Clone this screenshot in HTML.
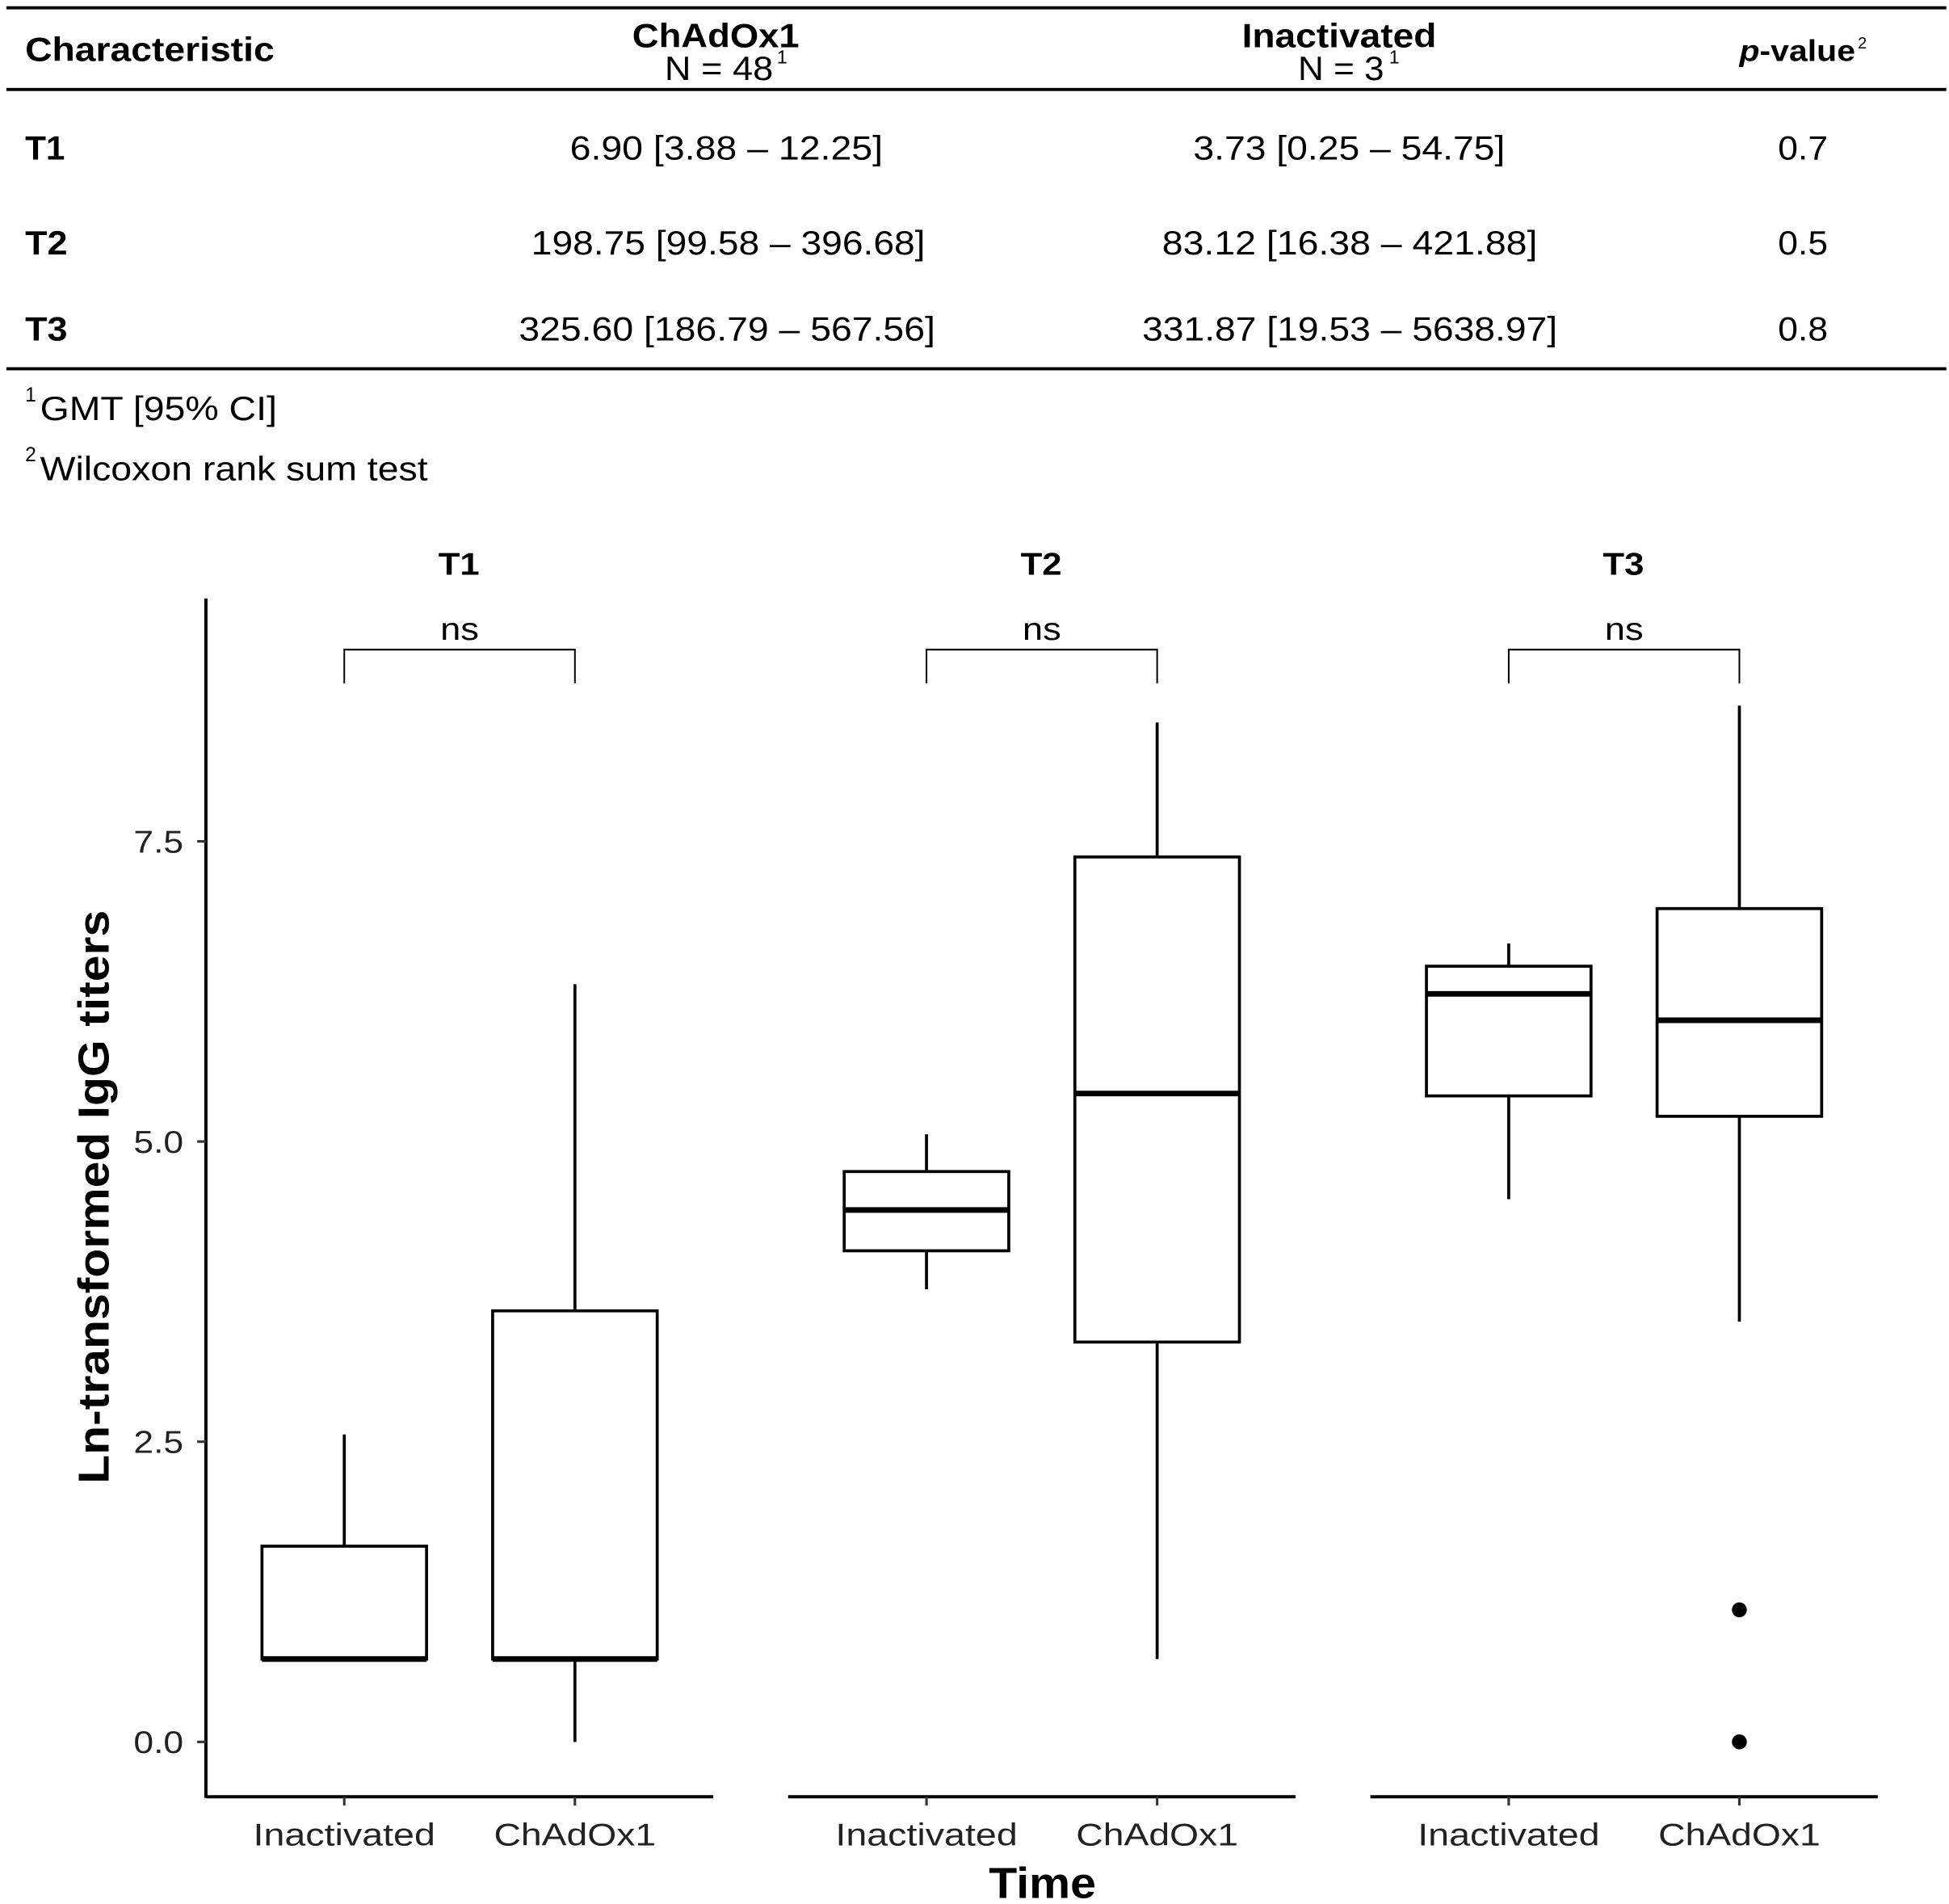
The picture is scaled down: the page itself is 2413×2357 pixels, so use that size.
<!DOCTYPE html>
<html><head><meta charset="utf-8"><style>
html,body{margin:0;padding:0;background:#fff;}
svg{display:block;font-family:"Liberation Sans",Arial,sans-serif;}
</style></head><body>
<svg id="fig" width="2413" height="2357" viewBox="0 0 1563 1527" xmlns="http://www.w3.org/2000/svg">
<g font-size="27" fill="#000">
 <rect x="5" y="5" width="1556" height="2.5"/>
 <text x="20" y="49" font-weight="bold" textLength="200" lengthAdjust="spacingAndGlyphs">Characteristic</text>
 <text x="507" y="38" font-weight="bold" textLength="134" lengthAdjust="spacingAndGlyphs">ChAdOx1</text>
 <text x="533" y="64" textLength="87" lengthAdjust="spacingAndGlyphs">N = 48</text>
 <text x="623" y="51" font-size="15">1</text>
 <text x="996" y="38" font-weight="bold" textLength="156" lengthAdjust="spacingAndGlyphs">Inactivated</text>
 <text x="1041" y="64" textLength="69" lengthAdjust="spacingAndGlyphs">N = 3</text>
 <text x="1114" y="51" font-size="15">1</text>
 <text x="1395" y="49" font-weight="bold" font-size="24" textLength="93" lengthAdjust="spacingAndGlyphs"><tspan font-style="italic">p</tspan>-value</text>
 <text x="1490" y="39" font-size="13">2</text>
 <rect x="5" y="70.5" width="1556" height="2.5"/>
 <text x="20" y="128" font-weight="bold" textLength="32" lengthAdjust="spacingAndGlyphs">T1</text>
 <text x="457" y="128" textLength="251" lengthAdjust="spacingAndGlyphs">6.90 [3.88 – 12.25]</text>
 <text x="957" y="128" textLength="250" lengthAdjust="spacingAndGlyphs">3.73 [0.25 – 54.75]</text>
 <text x="1426" y="128" textLength="40" lengthAdjust="spacingAndGlyphs">0.7</text>
 <text x="20" y="204" font-weight="bold" textLength="34" lengthAdjust="spacingAndGlyphs">T2</text>
 <text x="426" y="204" textLength="316" lengthAdjust="spacingAndGlyphs">198.75 [99.58 – 396.68]</text>
 <text x="932" y="204" textLength="301" lengthAdjust="spacingAndGlyphs">83.12 [16.38 – 421.88]</text>
 <text x="1426" y="204" textLength="40" lengthAdjust="spacingAndGlyphs">0.5</text>
 <text x="20" y="273" font-weight="bold" textLength="34" lengthAdjust="spacingAndGlyphs">T3</text>
 <text x="416" y="273" textLength="334" lengthAdjust="spacingAndGlyphs">325.60 [186.79 – 567.56]</text>
 <text x="916" y="273" textLength="333" lengthAdjust="spacingAndGlyphs">331.87 [19.53 – 5638.97]</text>
 <text x="1426" y="273" textLength="40" lengthAdjust="spacingAndGlyphs">0.8</text>
 <rect x="5" y="294.5" width="1556" height="2.5"/>
 <text x="20" y="322" font-size="16">1</text>
 <text x="32" y="337" textLength="190" lengthAdjust="spacingAndGlyphs">GMT [95% CI]</text>
 <text x="20" y="370" font-size="16">2</text>
 <text x="32" y="385" textLength="311" lengthAdjust="spacingAndGlyphs">Wilcoxon rank sum test</text>
</g>
<g id="plot"></g>
</svg>
<script>
const panels = ["T1","T2","T3"];
const groups = ["Inactivated","ChAdOx1"];
const lowWhisker = [[0.69,0.0],[3.77,0.69],[4.52,3.50]];
const q1Values   = [[0.69,0.69],[4.09,3.33],[5.38,5.21]];
const medians    = [[0.69,0.69],[4.43,5.40],[6.23,6.01]];
const q3Values   = [[1.63,3.59],[4.75,7.37],[6.46,6.94]];
const highWhisker= [[2.56,6.31],[5.06,8.49],[6.65,8.63]];
const outliers   = [[[],[]],[[],[]],[[],[1.10,0.0]]];
const yTicks = [0, 2.5, 5, 7.5];
const yTickLabels = ["0.0","2.5","5.0","7.5"];
const sigLabels = ["ns","ns","ns"];

const NS="http://www.w3.org/2000/svg";
const g=document.getElementById('plot');
const Y0=1397, PXU=96.3;
function yScale(v){return Y0-PXU*v;}
const panelLeft=[165,632,1099], panelW=407;
function xScale(p,i){return panelLeft[p]+111+i*185;}
function el(tag,attrs,parent){const e=document.createElementNS(NS,tag);for(const k in attrs)e.setAttribute(k,attrs[k]);(parent||g).appendChild(e);return e;}

let ax=el('line',{x1:165,y1:480,x2:165,y2:1442,stroke:'#000','stroke-width':2.6});


yTicks.forEach((t,k)=>{
  const y=yScale(t);
  let tk=el('line',{x1:158,y1:y,x2:165,y2:y,stroke:'#333','stroke-width':2});
  
  
  let tl=el('text',{x:147,y:y+9,'text-anchor':'end','font-size':25,fill:'#222',textLength:40,lengthAdjust:'spacingAndGlyphs'});
  
  
  tl.textContent=yTickLabels[k];
});
let yt=el('text',{x:0,y:0,'font-size':35,'font-weight':'bold','text-anchor':'middle',textLength:460,lengthAdjust:'spacingAndGlyphs',transform:'translate(87,960) rotate(-90)'});


yt.textContent='Ln-transformed IgG titers';
let xt=el('text',{x:836,y:1522,'font-size':35,'font-weight':'bold','text-anchor':'middle',textLength:86,lengthAdjust:'spacingAndGlyphs'});


xt.textContent='Time';

const tickLabelLen={"Inactivated":146,"ChAdOx1":130};
panels.forEach((pn,p)=>{
  const pg=el('g',{});
  
  
  let st=el('text',{x:panelLeft[p]+203,y:461,'font-size':25,'font-weight':'bold','text-anchor':'middle',textLength:33,lengthAdjust:'spacingAndGlyphs'},pg);
  
  
  st.textContent=pn;
  let xl=el('line',{x1:panelLeft[p],y1:1441,x2:panelLeft[p]+panelW,y2:1441,stroke:'#000','stroke-width':2.6},pg);
  
  
  const xa=xScale(p,0), xb=xScale(p,1);
  let br=el('path',{d:`M${xa},548 V521 H${xb} V548`,fill:'none',stroke:'#000','stroke-width':1.3},pg);
  
  
  let ns=el('text',{x:(xa+xb)/2,y:513,'font-size':25,'text-anchor':'middle',textLength:31,lengthAdjust:'spacingAndGlyphs'},pg);
  
  
  ns.textContent=sigLabels[p];
  groups.forEach((gr,i)=>{
    const x=xScale(p,i), hw=66;
    let tk=el('line',{x1:x,y1:1441,x2:x,y2:1448,stroke:'#333','stroke-width':2},pg);
    
    
    let lb=el('text',{x:x,y:1480,'font-size':25,'text-anchor':'middle',fill:'#222',textLength:tickLabelLen[gr],lengthAdjust:'spacingAndGlyphs'},pg);
    
    
    lb.textContent=gr;
    const bg=el('g',{},pg);
    
    
    el('line',{x1:x,y1:yScale(highWhisker[p][i]),x2:x,y2:yScale(q3Values[p][i]),stroke:'#000','stroke-width':2.4},bg);
    el('line',{x1:x,y1:yScale(q1Values[p][i]),x2:x,y2:yScale(lowWhisker[p][i]),stroke:'#000','stroke-width':2.4},bg);
    const yq3=yScale(q3Values[p][i]), yq1=yScale(q1Values[p][i]);
    el('rect',{x:x-hw,y:yq3,width:2*hw,height:Math.max(yq1-yq3,0.1),fill:'#fff',stroke:'#000','stroke-width':2.4},bg);
    el('line',{x1:x-hw,y1:yScale(medians[p][i]),x2:x+hw,y2:yScale(medians[p][i]),stroke:'#000','stroke-width':4.5},bg);
    outliers[p][i].forEach(v=>{
      let c=el('circle',{cx:x,cy:yScale(v),r:6,fill:'#000'},bg);
      
      
    });
  });
});
</script>
</body></html>
